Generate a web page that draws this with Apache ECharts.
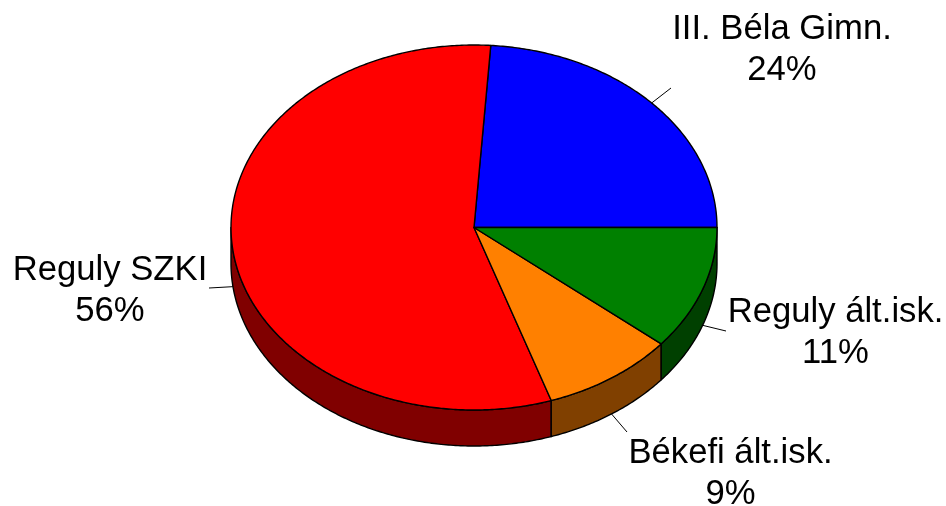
<!DOCTYPE html>
<html>
<head>
<meta charset="utf-8">
<style>html,body{margin:0;padding:0;background:#fff}#c{width:946px;height:506px}</style>
<script src="https://cdn.jsdelivr.net/npm/echarts@6/dist/echarts.min.js"></script>
</head>
<body>
<div id="c"></div>
<script>
var categories = ['III. Béla Gimn.', 'Reguly SZKI', 'Békefi ált.isk.', 'Reguly ált.isk.'];
var values = [23.9, 56.25, 8.85, 11];
var topColors = ['#0000ff', '#ff0000', '#ff8000', '#008000'];
var sideColors = ['#000080', '#800000', '#804000', '#004000'];

// layout of the tilted pie and of the label blocks
var CX = 474, CY = 227.5, RX = 243, RY = 182.5, DEPTH = 36;
var labelPos = [[782, 50], [110, 291], [730.5, 474], [835.5, 333]];
var leaderEnd = [[671, 88], [209, 288], [627, 432], [726, 331]];

var total = values.reduce(function (a, b) { return a + b; }, 0);
var starts = [];
values.reduce(function (acc, v, i) { starts[i] = acc; return acc + v; }, 0);
function ang(v) { return v / total * Math.PI * 2; }
function pt(t, dz) { return [CX + RX * Math.cos(t), CY - RY * Math.sin(t) + (dz || 0)]; }
function arc(a, b, dz) {
  var n = Math.max(2, Math.ceil(Math.abs(b - a) / 0.01)), out = [];
  for (var k = 0; k <= n; k++) out.push(pt(a + (b - a) * k / n, dz));
  return out;
}

function renderSide(params, api) {
  var i = api.value(0), a = ang(starts[i]), b = ang(starts[i] + values[i]);
  var lo = Math.max(a, Math.PI), hi = Math.min(b, Math.PI * 2);
  if (hi <= lo) return { type: 'group', children: [] };
  var pts = arc(lo, hi, 0).concat(arc(hi, lo, DEPTH));
  return { type: 'polygon', shape: { points: pts },
    style: { fill: sideColors[i], stroke: '#000', lineWidth: 1.4, lineJoin: 'round' } };
}
function renderTop(params, api) {
  var i = api.value(0), a = ang(starts[i]), b = ang(starts[i] + values[i]);
  var pts = [[CX, CY]].concat(arc(a, b, 0));
  return { type: 'polygon', shape: { points: pts },
    style: { fill: topColors[i], stroke: '#000', lineWidth: 1.4, lineJoin: 'round' } };
}
function renderLabel(params, api) {
  var i = api.value(0), m = ang(starts[i] + values[i] / 2);
  var lower = Math.sin(m) < 0;
  var p = pt(m, lower ? DEPTH : 0);
  return { type: 'group', children: [
    { type: 'line', shape: { x1: p[0], y1: p[1], x2: leaderEnd[i][0], y2: leaderEnd[i][1] },
      style: { stroke: '#000', lineWidth: 1 } },
    { type: 'text', style: { x: labelPos[i][0], y: labelPos[i][1],
      text: categories[i] + '\n' + Math.round(values[i]) + '%',
      fill: '#000', font: '34.67px "Liberation Sans", Arial, sans-serif',
      lineHeight: 41.5, align: 'center', verticalAlign: 'middle' } }
  ] };
}
var data = values.map(function (v, i) { return [i, v]; });
var chart = echarts.init(document.getElementById('c'), null, { renderer: 'canvas' });
chart.setOption({
  animation: false,
  backgroundColor: '#fff',
  series: [
    { type: 'custom', coordinateSystem: 'none', silent: true, z: 1, renderItem: renderSide, data: data },
    { type: 'custom', coordinateSystem: 'none', silent: true, z: 2, renderItem: renderTop, data: data },
    { type: 'custom', coordinateSystem: 'none', silent: true, z: 3, renderItem: renderLabel, data: data }
  ]
});
</script>
</body>
</html>
